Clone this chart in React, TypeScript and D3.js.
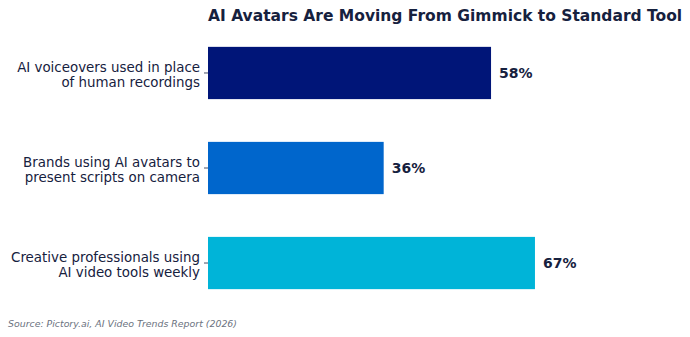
import { useEffect, useRef } from 'react'
import * as d3 from 'd3'

const categories = [
  'AI voiceovers used in place\nof human recordings',
  'Brands using AI avatars to\npresent scripts on camera',
  'Creative professionals using\nAI video tools weekly',
]
const values = [58, 36, 67]
const colors = ['#001578', '#0066CC', '#00B4D8']
const title = 'AI Avatars Are Moving From Gimmick to Standard Tool'
const source = 'Source: Pictory.ai, AI Video Trends Report (2026)'

const W = 690
const H = 337
const textColor = '#16213e'

const App = () => {
  const svgRef = useRef<SVGSVGElement>(null)

  useEffect(() => {
    const svg = d3.select(svgRef.current)
    svg.selectAll('*').remove()

    const margin = { top: 25, left: 208 }

    // x: 4.88px per percent point
    const x = d3.scaleLinear().domain([0, 100]).range([margin.left, margin.left + 488])
    const y = d3
      .scaleBand()
      .domain(categories)
      .range([25, 311])
      .paddingInner(0.45)
      .paddingOuter(0.23)

    svg
      .append('text')
      .attr('x', margin.left)
      .attr('y', 21)
      .attr('font-family', 'DejaVu Sans')
      .attr('font-weight', 'bold')
      .attr('font-size', 15.5)
      .attr('fill', textColor)
      .text(title)

    const g = svg.append('g')

    g.selectAll('.bar')
      .data(values)
      .enter()
      .append('rect')
      .attr('class', 'bar')
      .attr('x', x(0))
      .attr('y', (d, i) => y(categories[i]) as number)
      .attr('width', (d) => x(d) - x(0))
      .attr('height', y.bandwidth())
      .attr('fill', (d, i) => colors[i])

    g.selectAll('.val')
      .data(values)
      .enter()
      .append('text')
      .attr('class', 'val')
      .attr('x', (d) => x(d) + 8)
      .attr('y', (d, i) => (y(categories[i]) as number) + y.bandwidth() / 2)
      .attr('dy', '0.35em')
      .attr('font-family', 'DejaVu Sans')
      .attr('font-weight', 'bold')
      .attr('font-size', 14)
      .attr('fill', textColor)
      .text((d) => `${d}%`)

    // y axis: ticks + two-line labels
    const yAxis = g.append('g')
    categories.forEach((c) => {
      const cy = (y(c) as number) + y.bandwidth() / 2
      yAxis
        .append('line')
        .attr('x1', margin.left - 4)
        .attr('x2', margin.left)
        .attr('y1', cy)
        .attr('y2', cy)
        .attr('stroke', textColor)
        .attr('stroke-width', 0.8)
      const lines = c.split('\n')
      const t = yAxis
        .append('text')
        .attr('x', margin.left - 8)
        .attr('y', cy)
        .attr('text-anchor', 'end')
        .attr('font-family', 'DejaVu Sans')
        .attr('font-size', 13.4)
        .attr('fill', textColor)
      lines.forEach((l, i) => {
        t.append('tspan')
          .attr('x', margin.left - 8)
          .attr('dy', i === 0 ? '-0.08em' : '1.12em')
          .text(l)
      })
    })

    svg
      .append('text')
      .attr('x', 8)
      .attr('y', 327)
      .attr('font-family', 'DejaVu Sans')
      .attr('font-style', 'italic')
      .attr('font-size', 9.4)
      .attr('fill', '#6b7280')
      .text(source)
  }, [])

  return (
    <svg
      ref={svgRef}
      width={W}
      height={H}
      style={{ position: 'absolute', left: 0, top: 0, background: '#fff' }}
    />
  )
}

export default App
